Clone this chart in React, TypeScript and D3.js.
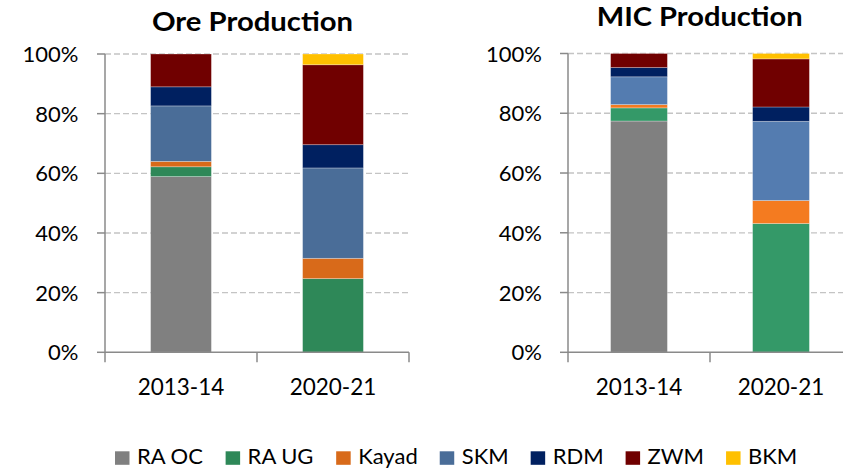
import React from "react";
import * as d3 from "d3";

const categories = ["2013-14", "2020-21"];
const seriesNames = ["RA OC", "RA UG", "Kayad", "SKM", "RDM", "ZWM", "BKM"];
const yTicks = [0, 20, 40, 60, 80, 100];

// Ore production shares (%)
const oreRaOc = [58.9, 0];
const oreRaUg = [3.3, 24.7];
const oreKayad = [1.8, 6.8];
const oreSkm = [18.6, 30.3];
const oreRdm = [6.4, 7.8];
const oreZwm = [11.0, 26.8];
const oreBkm = [0, 3.6];

// MIC production shares (%)
const micRaOc = [77.4, 0];
const micRaUg = [4.4, 43.1];
const micKayad = [1.1, 7.7];
const micSkm = [9.3, 26.5];
const micRdm = [3.1, 4.8];
const micZwm = [4.7, 16.1];
const micBkm = [0, 1.8];

const oreColors = ["#808080", "#2E8858", "#D86A1A", "#4A6D98", "#002060", "#700000", "#FFC000"];
const micColors = ["#808080", "#349968", "#F47B20", "#547CB0", "#002060", "#700000", "#FFC000"];

const FONT = "Lato, 'Open Sans', sans-serif";
const AXIS = "#8a8a8a";

function buildRows(arrs: number[][]) {
  return categories.map((c, i) => {
    const row: any = { cat: c };
    seriesNames.forEach((s, k) => (row[s] = arrs[k][i]));
    return row;
  });
}

type PanelProps = {
  title: string;
  titleX: number;
  titleY: number;
  titleLen: number;
  x0: number;
  x1: number;
  yTop: number;
  yBottom: number;
  labelRight: number;
  arrs: number[][];
  colors: string[];
};

function Panel(p: PanelProps) {
  const rows = buildRows(p.arrs);
  const stack = d3.stack<any>().keys(seriesNames);
  const layers = stack(rows);
  const x = d3.scaleBand<string>().domain(categories).range([p.x0, p.x1]).paddingInner(0.6).paddingOuter(0.3);
  const y = d3.scaleLinear().domain([0, 100]).range([p.yBottom, p.yTop]);
  const step = x.step();
  const boundaries = [p.x0, p.x0 + step, p.x0 + 2 * step];
  return (
    <g>
      <text
        x={p.titleX}
        y={p.titleY}
        textAnchor="middle"
        fontFamily={FONT}
        fontWeight={700}
        fontSize={27}
        textLength={p.titleLen}
        lengthAdjust="spacingAndGlyphs"
        fill="#000"
      >
        {p.title}
      </text>
      {yTicks.map((t) => (
        <g key={t}>
          {t > 0 && (
            <line x1={p.x0} x2={p.x1} y1={y(t)} y2={y(t)} stroke="#c4c4c4" strokeWidth={1.3} strokeDasharray="6,3" />
          )}
          <line x1={p.x0 - 8} x2={p.x0} y1={y(t)} y2={y(t)} stroke={AXIS} strokeWidth={1.5} />
          <text x={p.labelRight} y={y(t) + 8} textAnchor="end" fontFamily={FONT} fontSize={22} fill="#000">
            {t}%
          </text>
        </g>
      ))}
      {layers.map((layer, k) => (
        <g key={layer.key} fill={p.colors[k]}>
          {layer.map((d: any, i: number) =>
            d[1] - d[0] > 0 ? (
              <rect
                key={i}
                x={x(d.data.cat)}
                y={y(d[1])}
                width={x.bandwidth()}
                height={y(d[0]) - y(d[1])}
                stroke="rgba(255,255,255,0.35)"
                strokeWidth={0.8}
              />
            ) : null
          )}
        </g>
      ))}
      <line x1={p.x0} x2={p.x0} y1={y(100)} y2={y(0)} stroke={AXIS} strokeWidth={1.5} />
      <line x1={p.x0} x2={p.x1} y1={y(0)} y2={y(0)} stroke={AXIS} strokeWidth={1.5} />
      {boundaries.map((b, i) => (
        <line key={i} x1={b} x2={b} y1={y(0)} y2={y(0) + 10} stroke={AXIS} strokeWidth={1.5} />
      ))}
      {categories.map((c) => (
        <text
          key={c}
          x={(x(c) as number) + x.bandwidth() / 2}
          y={p.yBottom + 43}
          textAnchor="middle"
          fontFamily={FONT}
          fontSize={22.5}
          fill="#000"
        >
          {c}
        </text>
      ))}
    </g>
  );
}

function measure(text: string, size: number) {
  const c = document.createElement("canvas");
  const ctx = c.getContext("2d");
  if (!ctx) return text.length * size * 0.5;
  ctx.font = `${size}px Lato`;
  return ctx.measureText(text).width;
}

function Legend() {
  const sq = 14.5;
  const gapText = 7.5;
  const gapItem = 22;
  const fs = 22;
  let cx = 115;
  const items = seriesNames.map((s, i) => {
    const w = measure(s, fs);
    const it = { s, x: cx, tx: cx + sq + gapText, color: oreColors[i] };
    cx = cx + sq + gapText + w + gapItem;
    return it;
  });
  return (
    <g>
      {items.map((it) => (
        <g key={it.s}>
          <rect x={it.x} y={451.3} width={sq} height={13.5} fill={it.color} />
          <text x={it.tx} y={464.3} fontFamily={FONT} fontSize={fs} fill="#000">
            {it.s}
          </text>
        </g>
      ))}
    </g>
  );
}

export default function App() {
  const oreArrs = [oreRaOc, oreRaUg, oreKayad, oreSkm, oreRdm, oreZwm, oreBkm];
  const micArrs = [micRaOc, micRaUg, micKayad, micSkm, micRdm, micZwm, micBkm];
  return (
    <svg
      width={843}
      height={469}
      style={{ position: "fixed", left: 0, top: 0, background: "#fff", display: "block" }}
    >
      <rect width={843} height={469} fill="#fff" />
      <Panel
        title="Ore Production"
        titleX={252.5}
        titleY={31}
        titleLen={201}
        x0={105}
        x1={409}
        yTop={54}
        yBottom={352.3}
        labelRight={78.5}
        arrs={oreArrs}
        colors={oreColors}
      />
      <Panel
        title="MIC Production"
        titleX={699.7}
        titleY={26}
        titleLen={206}
        x0={568}
        x1={852}
        yTop={53.5}
        yBottom={352.3}
        labelRight={542}
        arrs={micArrs}
        colors={micColors}
      />
      <Legend />
    </svg>
  );
}
